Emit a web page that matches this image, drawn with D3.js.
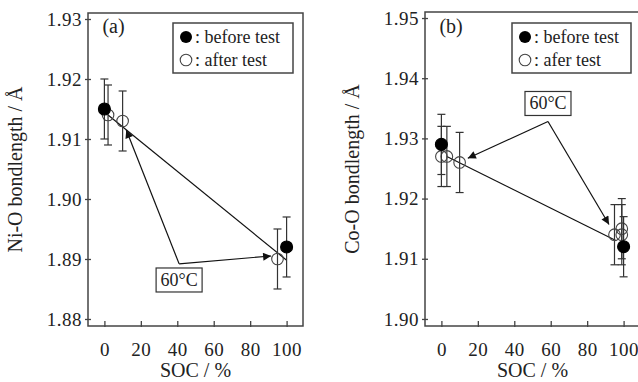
<!DOCTYPE html>
<html><head><meta charset="utf-8">
<script src="https://cdn.jsdelivr.net/npm/d3@7"></script>
<style>
body{margin:0;background:#fff;}
text{font-family:"Liberation Serif","Times New Roman",serif;fill:#222;}
</style></head>
<body><svg id="c" width="638" height="382"></svg>
<script>
// ---- data ----
const xTicks = [0, 20, 40, 60, 80, 100];
const yTicksA = [1.88, 1.89, 1.90, 1.91, 1.92, 1.93];
const yTicksB = [1.90, 1.91, 1.92, 1.93, 1.94, 1.95];
// panel (a) Ni-O
const beforeA_soc = [0, 100];
const beforeA_val = [1.915, 1.892];
const beforeA_err = [0.005, 0.005];
const afterA_soc = [2, 10, 95];
const afterA_val = [1.914, 1.913, 1.890];
const afterA_err = [0.005, 0.005, 0.005];
const trendA_soc = [2, 100];
const trendA_val = [1.914, 1.8898];
const calloutA = {label: "60°C", vertex: [41, 1.8892], tips: [[12, 1.9115], [91.5, 1.8905]], box: [41, 1.8865]};
// panel (b) Co-O
const beforeB_soc = [0, 100];
const beforeB_val = [1.929, 1.912];
const beforeB_err = [0.005, 0.005];
const afterB_soc = [0, 3, 10, 95, 99, 99];
const afterB_val = [1.927, 1.927, 1.926, 1.914, 1.915, 1.914];
const afterB_err = [0.005, 0.005, 0.005, 0.005, 0.005, 0.005];
const trendB_soc = [3, 96];
const trendB_val = [1.927, 1.913];
const calloutB = {label: "60°C", vertex: [58.5, 1.9328], tips: [[14.5, 1.9267], [92, 1.9157]], box: [58.5, 1.9358]};

const svg = d3.select("#c");
const defs = svg.append("defs");
defs.append("marker").attr("id","arr").attr("viewBox","0 0 10 10").attr("refX",10).attr("refY",5)
  .attr("markerWidth",12).attr("markerHeight",8).attr("markerUnits","userSpaceOnUse").attr("orient","auto")
  .append("path").attr("d","M0,0 L10,5 L0,10 Z").attr("fill","#111");

function panel(opt){
  const x = d3.scaleLinear().domain([-9,109]).range([opt.x0, opt.x0+215]);
  const y = d3.scaleLinear().domain(opt.ydom).range([326, opt.top]);
  const g = svg.append("g");
  // frame
  g.append("rect").attr("x",opt.x0).attr("y",opt.top).attr("width",215).attr("height",326-opt.top)
    .attr("fill","none").attr("stroke","#444").attr("stroke-width",1.5);
  // y ticks
  const ya = d3.axisLeft(y).tickValues(opt.yt).tickFormat(d3.format(".2f")).tickSizeOuter(0).tickSizeInner(3).tickPadding(4);
  const gy = g.append("g").attr("transform",`translate(${opt.x0},0)`).call(ya);
  gy.select(".domain").remove();
  gy.selectAll(".tick line").attr("x2",-3).attr("x1",3).attr("stroke","#444").attr("stroke-width",1.3);
  gy.selectAll(".tick text").attr("x",-6).style("font-size","19px").style("letter-spacing","0.5px").attr("fill","#222");
  const xa = d3.axisBottom(x).tickValues(xTicks).tickSizeOuter(0).tickSizeInner(4).tickPadding(13);
  const gx = g.append("g").attr("transform",`translate(0,326)`).call(xa);
  gx.select(".domain").remove();
  gx.selectAll(".tick line").attr("y1",-5).attr("y2",1).attr("stroke","#444").attr("stroke-width",1.3);
  gx.selectAll(".tick text").style("font-size","19px").style("letter-spacing","0.5px").attr("fill","#222");
  // axis titles
  g.append("text").attr("x",x(50)).attr("y",377).attr("text-anchor","middle").style("font-size","20px").text("SOC / %");
  g.append("text").attr("transform",`translate(${opt.x0-66},${(326+opt.top)/2}) rotate(-90)`)
    .attr("text-anchor","middle").style("font-size","20px").text(opt.ylabel);
  // panel label
  g.append("text").attr("x",x(0)-2).attr("y",33).style("font-size","20px").text(opt.tag);
  // trend line
  const line = d3.line().x(d=>x(d[0])).y(d=>y(d[1]));
  g.append("path").datum(opt.trend[0].map((s,i)=>[s,opt.trend[1][i]])).attr("d",line)
    .attr("fill","none").attr("stroke","#111").attr("stroke-width",1.2);
  // callout
  const c = opt.callout;
  c.tips.forEach(t=>{
    g.append("line").attr("x1",x(c.vertex[0])).attr("y1",y(c.vertex[1])).attr("x2",x(t[0])).attr("y2",y(t[1]))
      .attr("stroke","#111").attr("stroke-width",1.2).attr("marker-end","url(#arr)");
  });
  g.append("rect").attr("x",x(c.box[0])-23).attr("y",y(c.box[1])-12).attr("width",46).attr("height",24)
    .attr("fill","#fff").attr("stroke","#333").attr("stroke-width",1.2);
  g.append("text").attr("x",x(c.box[0])).attr("y",y(c.box[1])+6).attr("text-anchor","middle").style("font-size","18px").text(c.label);
  // points
  function series(soc,val,err,filled){
    const pts = soc.map((s,i)=>({s,v:val[i],e:err[i]}));
    const gg = g.append("g");
    pts.forEach(p=>{
      const cx = x(p.s), y1=y(p.v+p.e), y2=y(p.v-p.e);
      gg.append("line").attr("x1",cx).attr("x2",cx).attr("y1",y1).attr("y2",y2).attr("stroke","#333").attr("stroke-width",1.2);
      [y1,y2].forEach(yy=>gg.append("line").attr("x1",cx-4).attr("x2",cx+4).attr("y1",yy).attr("y2",yy).attr("stroke","#333").attr("stroke-width",1.2));
    });
    pts.forEach(p=>{
      gg.append("circle").attr("cx",x(p.s)).attr("cy",y(p.v)).attr("r",filled?6:5.8)
        .attr("fill",filled?"#000":"none").attr("stroke",filled?"#000":"#444").attr("stroke-width",1.1);
    });
  }
  series(opt.after[0],opt.after[1],opt.after[2],false);
  series(opt.before[0],opt.before[1],opt.before[2],true);
  // legend
  const lx = opt.leg[0], ly = opt.leg[1];
  g.append("rect").attr("x",lx).attr("y",ly).attr("width",opt.leg[2]).attr("height",50)
    .attr("fill","#fff").attr("stroke","#444").attr("stroke-width",1.5);
  g.append("circle").attr("cx",lx+13).attr("cy",ly+14).attr("r",6).attr("fill","#000");
  g.append("circle").attr("cx",lx+13).attr("cy",ly+37).attr("r",5.8).attr("fill","none").attr("stroke","#444").attr("stroke-width",1.1);
  g.append("text").attr("x",lx+22).attr("y",ly+20).style("font-size","18px").text(": before test");
  g.append("text").attr("x",lx+22).attr("y",ly+43).style("font-size","18px").text(opt.afterLabel);
}

panel({x0:88, top:13, ydom:[1.87883,1.931], yt:yTicksA, ylabel:"Ni-O bondlength / Å", tag:"(a)",
  trend:[trendA_soc,trendA_val], callout:calloutA,
  before:[beforeA_soc,beforeA_val,beforeA_err], after:[afterA_soc,afterA_val,afterA_err],
  leg:[173,23,120], afterLabel:": after test"});
panel({x0:425, top:12, ydom:[1.89883,1.951], yt:yTicksB, ylabel:"Co-O bondlength / Å", tag:"(b)",
  trend:[trendB_soc,trendB_val], callout:calloutB,
  before:[beforeB_soc,beforeB_val,beforeB_err], after:[afterB_soc,afterB_val,afterB_err],
  leg:[512,23,119], afterLabel:": afer test"});
</script></body></html>
